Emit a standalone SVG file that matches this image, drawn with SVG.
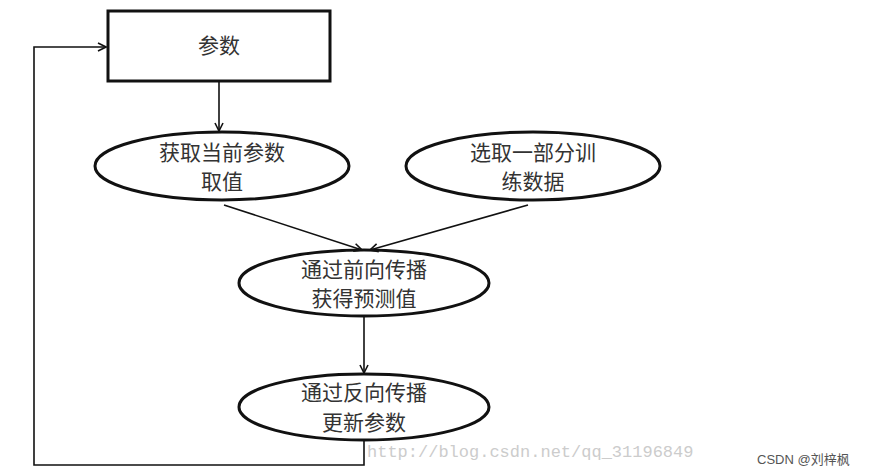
<svg xmlns="http://www.w3.org/2000/svg" width="872" height="475" viewBox="0 0 872 475">
<style>
.s{fill:#fff;stroke:#111;stroke-width:3}
.t{font-family:"Liberation Serif","Noto Sans CJK SC",serif;font-size:21px;fill:#333;text-anchor:middle}
.c{fill:none;stroke:#111;stroke-width:1.6}
</style>
<defs><marker id="a" markerWidth="10" markerHeight="10" refX="9" refY="5" orient="auto" markerUnits="userSpaceOnUse"><path d="M1,1 L9,5 L1,9" fill="none" stroke="#111" stroke-width="1.6"/></marker></defs>
<rect width="872" height="475" fill="#fff"/>
<g id="n1"><rect class="s" x="108" y="11" width="222" height="70"/><text class="t" x="219" y="53">参数</text></g>
<g id="n2"><ellipse class="s" cx="222" cy="166" rx="127" ry="34"/><text class="t" x="222" y="160">获取当前参数</text><text class="t" x="222" y="189">取值</text></g>
<g id="n3"><ellipse class="s" cx="533" cy="166" rx="127" ry="34"/><text class="t" x="533" y="160">选取一部分训</text><text class="t" x="533" y="189">练数据</text></g>
<g id="n4"><ellipse class="s" cx="364" cy="283" rx="125" ry="33"/><text class="t" x="364" y="277">通过前向传播</text><text class="t" x="364" y="306">获得预测值</text></g>
<g id="n5"><ellipse class="s" cx="364" cy="407" rx="125" ry="33"/><text class="t" x="364" y="400">通过反向传播</text><text class="t" x="364" y="430">更新参数</text></g>
<g id="connectors">
<line class="c" x1="219" y1="82" x2="219" y2="131" marker-end="url(#a)"/>
<line class="c" x1="224" y1="205" x2="362" y2="250" marker-end="url(#a)"/>
<line class="c" x1="528" y1="205" x2="370" y2="250" marker-end="url(#a)"/>
<line class="c" x1="364" y1="316" x2="364" y2="373" marker-end="url(#a)"/>
<polyline class="c" points="364,440 364,465 34,465 34,47 106,47" stroke-width="2.4" marker-end="url(#a)"/>
</g>
<text x="367" y="457" font-family="Liberation Mono,monospace" font-size="17" fill="#ccc">http://blog.csdn.net/qq_31196849</text>
<text x="757" y="464" font-family="Liberation Sans,'Noto Sans CJK SC',sans-serif" font-size="13" fill="#555">CSDN @刘梓枫</text>
</svg>
